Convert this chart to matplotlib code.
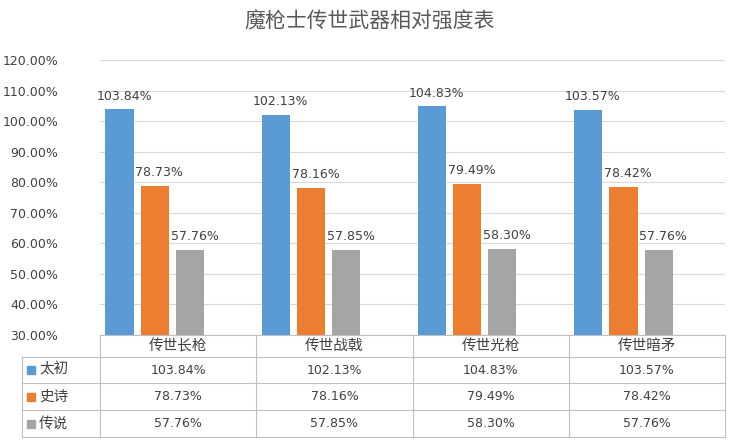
import matplotlib.pyplot as plt
import numpy as np
from matplotlib.lines import Line2D
from matplotlib.patches import Rectangle

plt.rcParams['font.family'] = ['Noto Sans CJK SC', 'DejaVu Sans']
NUM = ['DejaVu Sans']

categories = ['传世长枪', '传世战戟', '传世光枪', '传世暗矛']
series = ['太初', '史诗', '传说']
taichu = [103.84, 102.13, 104.83, 103.57]
shishi = [78.73, 78.16, 79.49, 78.42]
chuanshuo = [57.76, 57.85, 58.30, 57.76]
values = [taichu, shishi, chuanshuo]
colors = ['#5B9BD5', '#ED7D31', '#A5A5A5']

W, H = 739, 445
fig = plt.figure(figsize=(W / 100, H / 100), dpi=100)

def fx(px):
    return px / W

def fy(py):
    return 1 - py / H

ax_l, ax_r, ax_t, ax_b = 100, 725, 60, 335
ax = fig.add_axes([fx(ax_l), fy(ax_b), fx(ax_r - ax_l), fy(ax_t) - fy(ax_b)])

x = np.arange(len(categories))
bw = 0.18
offs = [-0.375, -0.15, 0.075]
for s, vals, c, o in zip(series, values, colors, offs):
    ax.bar(x + o, vals, bw, color=c, zorder=3)
    for xi, v in zip(x, vals):
        ax.text(xi + o + 0.03, v + 2.2, f'{v:.2f}%', ha='center', va='bottom',
                fontsize=9, color='#404040', family=NUM)

ax.set_xlim(-0.5, len(categories) - 0.5)
ax.set_ylim(30, 120)
yt = np.arange(30, 121, 10)
ax.set_yticks(yt)
ax.set_yticklabels([f'{v:.2f}%' for v in yt], fontsize=9, color='#404040', family=NUM)
ax.set_xticks([])
ax.grid(axis='y', color='#D9D9D9', lw=0.8, zorder=0)
for sp in ax.spines.values():
    sp.set_visible(False)
ax.tick_params(axis='y', length=0, pad=30)

fig.text(0.5, fy(22), '魔枪士传世武器相对强度表', ha='center', va='center',
         fontsize=15, color='#595959')

# data table
gc = '#BFBFBF'
gw = (ax_r - ax_l) / len(categories)
rows_y = [335, 357, 383, 410, 437]
tl = 22
for i, yy in enumerate(rows_y):
    x0 = ax_l if i == 0 else tl
    fig.add_artist(Line2D([fx(x0), fx(ax_r)], [fy(yy), fy(yy)], color=gc, lw=0.8))
for k in range(len(categories) + 1):
    xx = ax_l + gw * k
    fig.add_artist(Line2D([fx(xx), fx(xx)], [fy(rows_y[0]), fy(rows_y[-1])], color=gc, lw=0.8))
fig.add_artist(Line2D([fx(tl), fx(tl)], [fy(rows_y[1]), fy(rows_y[-1])], color=gc, lw=0.8))

for k, cat in enumerate(categories):
    fig.text(fx(ax_l + gw * (k + 0.5)), fy((rows_y[0] + rows_y[1]) / 2), cat,
             ha='center', va='center', fontsize=10.5, color='#404040')
for r, (s, vals, c) in enumerate(zip(series, values, colors)):
    yc = fy((rows_y[r + 1] + rows_y[r + 2]) / 2)
    fig.add_artist(Rectangle((fx(tl + 5), yc - fy(0) + fy(4)), fx(8), fy(0) - fy(8),
                             color=c))
    fig.text(fx(tl + 17), yc, s, ha='left', va='center', fontsize=10.5, color='#404040')
    for k, v in enumerate(vals):
        fig.text(fx(ax_l + gw * (k + 0.5)), yc, f'{v:.2f}%', ha='center', va='center',
                 fontsize=9, color='#404040', family=NUM)

fig.savefig('out.png', dpi=100)
